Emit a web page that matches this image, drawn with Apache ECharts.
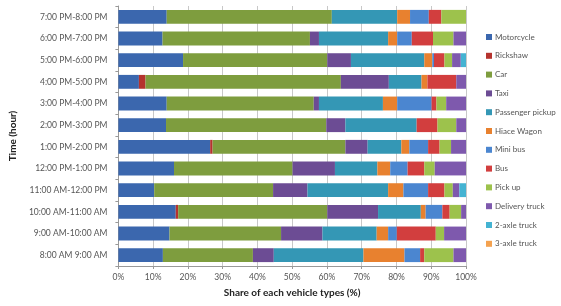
<!DOCTYPE html>
<html lang="en">
<head>
    <meta charset="UTF-8">
    <title>Vehicle share by hour</title>
    <script src="https://cdn.jsdelivr.net/npm/echarts@6/dist/echarts.min.js"></script>
    <style>
        html, body { margin: 0; padding: 0; background: #fff; }
        #main { width: 561px; height: 306px; }
    </style>
</head>
<body>
<div id="main"></div>

<script>
    // hours, bottom to top
    var hours = ['8:00 AM 9:00 AM', '9:00 AM-10:00 AM', '10:00 AM-11:00 AM', '11:00 AM-12:00 PM',
        '12:00 PM-1:00 PM', '1:00 PM-2:00 PM', '2:00 PM-3:00 PM', '3:00 PM-4:00 PM',
        '4:00 PM-5:00 PM', '5:00 PM-6:00 PM', '6:00 PM-7:00 PM', '7:00 PM-8:00 PM'];

    var motorcycle      = [12.8, 14.7, 16.5, 10.3, 16.0, 26.4, 13.7, 13.9, 5.9, 18.6, 12.7, 13.9];
    var rickshaw        = [0, 0, 0.7, 0, 0, 0.7, 0, 0, 1.9, 0, 0, 0];
    var car             = [25.9, 32.1, 42.9, 34.2, 34.1, 38.2, 46.1, 42.3, 56.2, 41.5, 42.4, 47.5];
    var taxi            = [6.0, 11.9, 14.6, 9.9, 12.2, 6.4, 5.5, 1.5, 13.8, 6.8, 2.6, 0];
    var passengerPickup = [25.8, 15.6, 12.3, 23.2, 12.2, 9.7, 20.5, 18.4, 9.4, 21.1, 19.9, 18.8];
    var hiaceWagon      = [11.8, 3.3, 1.4, 4.4, 3.7, 2.3, 0, 4.1, 1.7, 2.3, 2.6, 3.7];
    var miniBus         = [4.5, 2.5, 4.8, 7.1, 5.0, 5.4, 0, 9.9, 0, 0.5, 4.2, 5.4];
    var bus             = [1.2, 11.2, 2.1, 4.7, 4.8, 3.3, 6.0, 1.4, 8.3, 3.0, 6.1, 3.6];
    var pickUp          = [8.4, 2.4, 3.3, 2.4, 3.0, 3.3, 5.4, 2.8, 0, 2.2, 5.9, 7.1];
    var deliveryTruck   = [3.6, 6.3, 1.4, 1.9, 9.0, 4.3, 2.8, 5.7, 2.8, 2.5, 3.6, 0];
    var axle2Truck      = [0, 0, 0, 1.9, 0, 0, 0, 0, 0, 1.5, 0, 0];
    var axle3Truck      = [0, 0, 0, 0, 0, 0, 0, 0, 0, 0, 0, 0];

    var names = ['Motorcycle', 'Rickshaw', 'Car', 'Taxi', 'Passenger pickup', 'Hiace Wagon',
        'Mini bus', 'Bus', 'Pick up', 'Delivery truck', '2-axle truck', '3-axle truck'];
    var values = [motorcycle, rickshaw, car, taxi, passengerPickup, hiaceWagon,
        miniBus, bus, pickUp, deliveryTruck, axle2Truck, axle3Truck];
    var colors = ['#3b67ae', '#b5332e', '#7e9d3e', '#6c4c94', '#3497b5', '#e8812f',
        '#4b86d0', '#d23e3e', '#9dc24c', '#7e59ad', '#44b3d2', '#f4a24f'];

    var font = 'Lato, "Open Sans", sans-serif';

    var series = [];
    for (var i = 0; i < names.length; i++) {
        series.push({
            name: names[i],
            type: 'bar',
            stack: 'share',
            barCategoryGap: '36%',
            itemStyle: {color: colors[i]},
            data: values[i]
        });
    }

    var myChart = echarts.init(document.getElementById('main'));

    option = {
        animation: false,
        textStyle: {fontFamily: font},
        grid: {left: 114, right: 95, top: 6, bottom: 40},
        legend: {
            orient: 'vertical',
            left: 486,
            top: 33,
            padding: 0,
            itemWidth: 6,
            itemHeight: 6,
            itemGap: 10.8,
            icon: 'rect',
            textStyle: {fontSize: 8, lineHeight: 8, color: '#555', fontFamily: font, padding: [0, 0, 0, -2]},
            data: names
        },
        xAxis: {
            type: 'value',
            min: 0,
            max: 100,
            interval: 10,
            name: 'Share of each vehicle types (%)',
            nameLocation: 'middle',
            nameGap: 22,
            nameTextStyle: {fontSize: 10, fontWeight: 'bold', color: '#222', fontFamily: font},
            axisLine: {show: true, lineStyle: {color: '#999'}},
            axisTick: {show: true, length: 3, lineStyle: {color: '#999'}},
            axisLabel: {formatter: '{value}%', fontSize: 8.5, color: '#555', margin: 7},
            splitLine: {show: true, lineStyle: {color: '#c8c8c8'}}
        },
        yAxis: {
            type: 'category',
            data: hours,
            name: 'Time (hour)',
            nameLocation: 'middle',
            nameGap: 100,
            nameTextStyle: {fontSize: 10, fontWeight: 'bold', color: '#222', fontFamily: font},
            axisLine: {show: true, lineStyle: {color: '#999'}},
            axisTick: {show: true, length: 3, lineStyle: {color: '#999'}},
            axisLabel: {fontSize: 8.5, color: '#555', margin: 11}
        },
        series: series
    };

    myChart.setOption(option, true);
</script>
</body>
</html>
